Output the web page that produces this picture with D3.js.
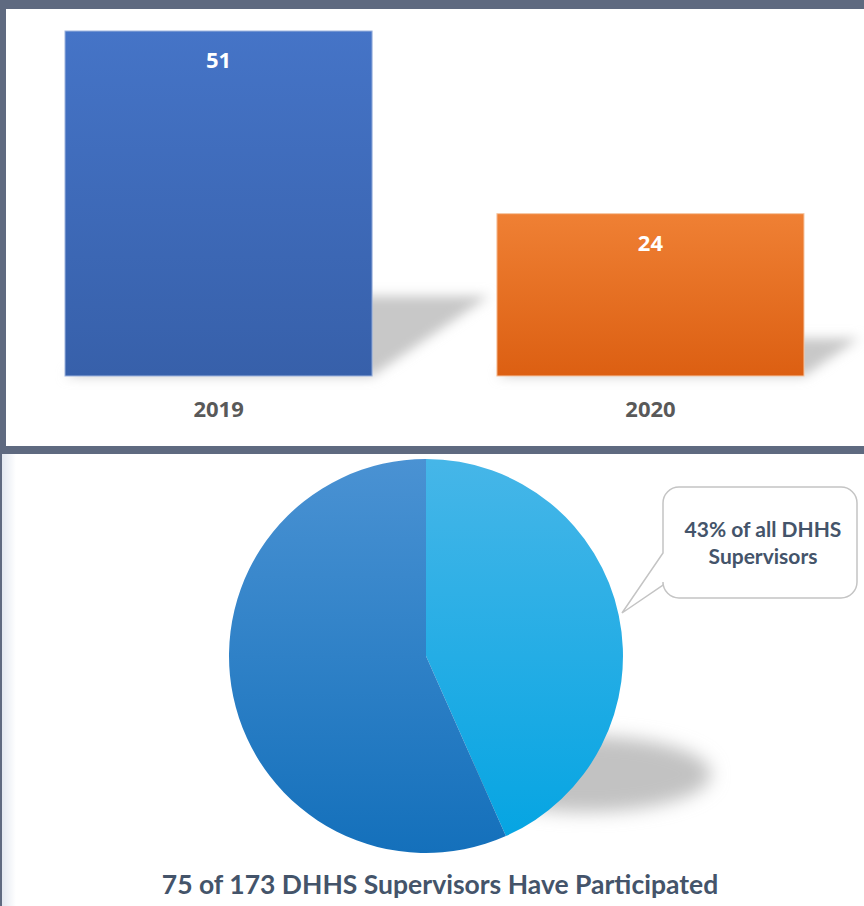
<!DOCTYPE html>
<html>
<head>
<meta charset="utf-8">
<script src="https://cdn.jsdelivr.net/npm/d3@7"></script>
<style>
  html, body { margin: 0; padding: 0; background: #5f6a80; }
  svg { display: block; }
</style>
</head>
<body>
<div id="chart"></div>
<script>
// bar chart data
const years = ["2019", "2020"];
const participants = [51, 24];

// pie data
const pieLabels = ["Participated", "Not participated"];
const pieValues = [75, 98];
const calloutLines = ["43% of all DHHS", "Supervisors"];
const caption = "75 of 173 DHHS Supervisors Have Participated";

const W = 864, H = 906;

const svg = d3.select("#chart").append("svg")
    .attr("width", W)
    .attr("height", H);

const defs = svg.append("defs");

function vGrad(id, top, bottom, y1, y2){
    const g = defs.append("linearGradient")
        .attr("id", id)
        .attr("gradientUnits", "userSpaceOnUse")
        .attr("x1", 0).attr("x2", 0)
        .attr("y1", y1).attr("y2", y2);
    g.append("stop").attr("offset", "0%").attr("stop-color", top);
    g.append("stop").attr("offset", "100%").attr("stop-color", bottom);
}

const blur = defs.append("filter").attr("id", "blur")
    .attr("x", "-50%").attr("y", "-50%").attr("width", "200%").attr("height", "200%");
blur.append("feGaussianBlur").attr("stdDeviation", 6);

const blur2 = defs.append("filter").attr("id", "blur2")
    .attr("x", "-50%").attr("y", "-50%").attr("width", "200%").attr("height", "200%");
blur2.append("feGaussianBlur").attr("stdDeviation", 9);

// background panels
svg.append("rect").attr("x", 0).attr("y", 0).attr("width", W).attr("height", H).attr("fill", "#5f6a80");
svg.append("rect").attr("x", 6).attr("y", 9).attr("width", W - 6).attr("height", 437).attr("fill", "#ffffff");
svg.append("rect").attr("x", 2).attr("y", 454).attr("width", W - 2).attr("height", H - 454).attr("fill", "#ffffff");

const edge = defs.append("linearGradient").attr("id", "edge")
    .attr("x1", 0).attr("x2", 1).attr("y1", 0).attr("y2", 0);
edge.append("stop").attr("offset", "0%").attr("stop-color", "#e3e8f0");
edge.append("stop").attr("offset", "100%").attr("stop-color", "#ffffff");
svg.append("rect").attr("x", 2).attr("y", 454).attr("width", 14).attr("height", H - 454).attr("fill", "url(#edge)");

// ---- bar chart ----
const x = d3.scaleBand()
    .domain(years)
    .range([65, 804])
    .paddingInner(0.289)
    .paddingOuter(0);

const y = d3.scaleLinear()
    .domain([0, d3.max(participants)])
    .range([376, 31]);

const barColors = [["#4574c7", "#3760aa"], ["#ef8034", "#dc5f12"]];
years.forEach((yr, i) => vGrad(`bar${i}`, barColors[i][0], barColors[i][1], y(participants[i]), y(0)));

const bars = svg.append("g");

// cast shadows
years.forEach((yr, i) => {
    const x0 = x(yr), x1 = x(yr) + x.bandwidth();
    const b = y(0), h = y(0) - y(participants[i]);
    const dx = 0.34 * h, dy = 0.232 * h;
    bars.append("path")
        .attr("d", `M${x0} ${b} L${x0 + dx} ${b - dy} L${x1 + dx} ${b - dy} L${x1} ${b} Z`)
        .attr("fill", "#c8c8c8")
        .attr("filter", "url(#blur)");
});

years.forEach((yr, i) => {
    bars.append("rect")
        .attr("x", x(yr))
        .attr("y", y(participants[i]))
        .attr("width", x.bandwidth())
        .attr("height", y(0) - y(participants[i]))
        .attr("fill", `url(#bar${i})`)
        .attr("stroke", i === 0 ? "#9db3de" : "#f6c6a2")
        .attr("stroke-width", 1);

    bars.append("text")
        .attr("x", x(yr) + x.bandwidth() / 2)
        .attr("y", y(participants[i]) + 37)
        .attr("text-anchor", "middle")
        .attr("font-family", "'Open Sans', sans-serif")
        .attr("font-weight", "bold")
        .attr("font-size", 22)
        .attr("fill", "#ffffff")
        .text(participants[i]);
});

const xAxis = svg.append("g")
    .attr("transform", `translate(0, ${y(0)})`)
    .call(d3.axisBottom(x).tickSize(0).tickPadding(25));
xAxis.select(".domain").remove();
xAxis.selectAll("text")
    .attr("font-family", "'Open Sans', sans-serif")
    .attr("font-weight", "bold")
    .attr("font-size", 22)
    .attr("fill", "#595959");

// ---- pie chart ----
const cx = 426, cy = 656, r = 197;

const pieColors = [["#46b6e8", "#03a4e2"], ["#4a92d3", "#1470bb"]];
pieLabels.forEach((l, i) => vGrad(`pie${i}`, pieColors[i][0], pieColors[i][1], -r, r));

const pieG = svg.append("g").attr("transform", `translate(${cx}, ${cy})`);

pieG.append("ellipse")
    .attr("cx", 160)
    .attr("cy", 118)
    .attr("rx", 125)
    .attr("ry", 38)
    .attr("fill", "#c2c2c2")
    .attr("filter", "url(#blur2)");

const pie = d3.pie().sort(null).value(d => d)(pieValues);
const arc = d3.arc().innerRadius(0).outerRadius(r);

pieG.selectAll("path.slice")
    .data(pie)
    .join("path")
    .attr("class", "slice")
    .attr("d", arc)
    .attr("fill", (d, i) => `url(#pie${i})`);

// callout
const bx = 663, by = 487, bw = 194, bh = 111, br = 16;
const tailTop = 553, tailBot = 585, tipX = 622, tipY = 613;
const callout = d3.path();
callout.moveTo(bx + br, by);
callout.lineTo(bx + bw - br, by);
callout.arcTo(bx + bw, by, bx + bw, by + br, br);
callout.lineTo(bx + bw, by + bh - br);
callout.arcTo(bx + bw, by + bh, bx + bw - br, by + bh, br);
callout.lineTo(bx + br, by + bh);
callout.arcTo(bx, by + bh, bx, by + bh - br, br);
callout.lineTo(bx, tailBot);
callout.lineTo(tipX, tipY);
callout.lineTo(bx, tailTop);
callout.lineTo(bx, by + br);
callout.arcTo(bx, by, bx + br, by, br);
callout.closePath();

svg.append("path")
    .attr("d", callout.toString())
    .attr("fill", "#ffffff")
    .attr("stroke", "#c4c4c4")
    .attr("stroke-width", 1.5);

svg.append("text")
    .attr("font-family", "Lato, sans-serif")
    .attr("font-weight", "bold")
    .attr("font-size", 21)
    .attr("fill", "#44546a")
    .attr("text-anchor", "middle")
    .selectAll("tspan")
    .data(calloutLines)
    .join("tspan")
    .attr("x", bx + bw / 2 + 3)
    .attr("y", (d, i) => 537 + i * 27)
    .text(d => d);

svg.append("text")
    .attr("x", 440)
    .attr("y", 894)
    .attr("text-anchor", "middle")
    .attr("font-family", "Lato, sans-serif")
    .attr("font-weight", "bold")
    .attr("font-size", 26.5)
    .attr("fill", "#44546a")
    .text(caption);
</script>
</body>
</html>
